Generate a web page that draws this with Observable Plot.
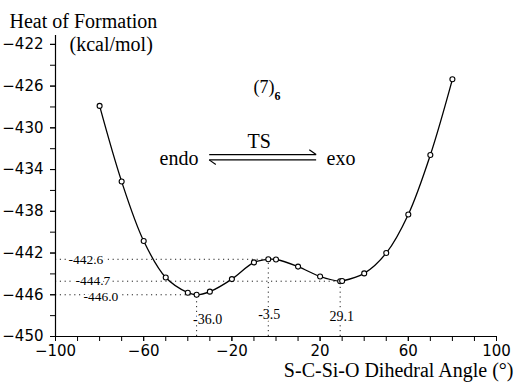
<!DOCTYPE html>
<html><head><meta charset="utf-8">
<script src="https://cdn.jsdelivr.net/npm/d3@7"></script>
<script src="https://cdn.jsdelivr.net/npm/@observablehq/plot@0.6"></script>
<style>body{margin:0;background:#fff} svg{display:block}</style>
</head><body><div id="chart"></div>
<script>
// Data
const angles   = [-80, -70, -60, -50, -40, -36, -30, -20, -10, -3.5, 0, 10, 20, 29.1, 30, 40, 50, 60, 70, 80];
const energies = [-427.9, -435.15, -440.85, -444.35, -445.8, -446.0, -445.7, -444.5, -442.9, -442.6, -442.62, -443.3, -444.25, -444.7, -444.68, -443.95, -442.0, -438.3, -432.6, -425.35];
const critAngles   = [-36.0, -3.5, 29.1];
const critEnergies = [-446.0, -442.6, -444.7];
const xTickLabels = [-100, -60, -20, 20, 60, 100];
const yTickLabels = [-422, -426, -430, -434, -438, -442, -446, -450];
const xMinorTicks = d3.range(-100, 101, 10);
const yMinorTicks = d3.range(-450, -421, 2);

const pts = angles.map((a, i) => ({a, e: energies[i]}));
const crit = critAngles.map((a, i) => ({a, e: critEnergies[i]}));
const serif = "Liberation Serif";
const dotted = {stroke: "#222", strokeWidth: 1, strokeDasharray: "1.2,3.6"};
const halo = {stroke: "white", strokeWidth: 4, fill: "black"};

// label offsets (style)
const yLabDx = [28, 13, 20];
const yLabDy = [2, 0, -0.5];
const xLabDx = [11, 1, 1.5];
const xLabDy = [-17, -22, -20];

const marks = [
  Plot.ruleY(crit, {y: "e", x1: -100, x2: "a", ...dotted}),
  Plot.ruleX(crit, {x: "a", y1: -450, y2: "e", ...dotted}),
  Plot.line(pts, {x: "a", y: "e", curve: "catmull-rom", stroke: "black", strokeWidth: 1.3}),
  Plot.dot(pts, {x: "a", y: "e", r: 2.5, stroke: "black", fill: "white", strokeWidth: 1.1}),
];
crit.forEach((d, i) => {
  marks.push(Plot.text([d], {y: "e", text: d => d.e.toFixed(1), frameAnchor: "left", textAnchor: "start", lineAnchor: "middle", dx: yLabDx[i], dy: yLabDy[i], fontFamily: serif, fontSize: 13.5, ...halo}));
  marks.push(Plot.text([d], {x: "a", text: d => d.a.toFixed(1), frameAnchor: "bottom", textAnchor: "middle", lineAnchor: "middle", dx: xLabDx[i], dy: xLabDy[i], fontFamily: serif, fontSize: 14, ...halo}));
});

// equilibrium harpoons (data coordinates)
const arrowSegs = [
  {x1: -30.3, y1: -432.56, x2: 18.2, y2: -432.56},
  {x1: 18.2, y1: -432.56, x2: 15.1, y2: -432.11},
  {x1: -30.3, y1: -433.07, x2: 18.2, y2: -433.07},
  {x1: -30.3, y1: -433.07, x2: -27.3, y2: -433.52}
];
marks.push(Plot.link(arrowSegs, {x1: "x1", y1: "y1", x2: "x2", y2: "y2", stroke: "black", strokeWidth: 1.2}));

// annotation text
const ann = (text, dx, dy, opts = {}) => Plot.text([text], {text: d => d, frameAnchor: "top-left", textAnchor: "start", lineAnchor: "bottom", dx, dy, fontFamily: serif, fontSize: 20, fill: "black", ...opts});
marks.push(
  ann("Heat of Formation", -46, -8),
  ann("(kcal/mol)", 14, 15),
  ann("(7)", 198, 57, {fontSize: 18}),
  ann("6", 219, 64, {fontSize: 12, fontWeight: "bold"}),
  ann("endo", 104, 129),
  ann("TS", 192, 112),
  ann("exo", 271, 129),
  Plot.text(["S-C-Si-O Dihedral Angle (°)"], {text: d => d, frameAnchor: "bottom-right", textAnchor: "end", lineAnchor: "bottom", dx: 17, dy: 40, fontFamily: serif, fontSize: 20, fill: "black"})
);

// axes
marks.push(
  Plot.axisX({ticks: xMinorTicks, tickSize: 5, tickFormat: () => "", label: null}),
  Plot.axisX({ticks: xTickLabels, tickSize: 5, tickPadding: 4, fontSize: 15, fontFamily: "DejaVu Sans", label: null}),
  Plot.axisY({ticks: yMinorTicks, tickSize: 5, tickFormat: () => "", label: null}),
  Plot.axisY({ticks: yTickLabels, tickSize: 5, tickPadding: 7, fontSize: 15, fontFamily: "DejaVu Sans", label: null}),
  Plot.ruleX([-100], {stroke: "black", strokeWidth: 1.2}),
  Plot.ruleY([-450], {stroke: "black", strokeWidth: 1.2})
);

const chart = Plot.plot({
  width: 514, height: 383,
  marginLeft: 55, marginRight: 18, marginTop: 35, marginBottom: 47,
  x: {domain: [-100, 100], label: null},
  y: {domain: [-450, -421.15], label: null},
  style: {background: "white", color: "black", fontFamily: "DejaVu Sans", fontSize: "15px", overflow: "visible"},
  marks
});
document.getElementById("chart").appendChild(chart);
</script>
</body></html>
